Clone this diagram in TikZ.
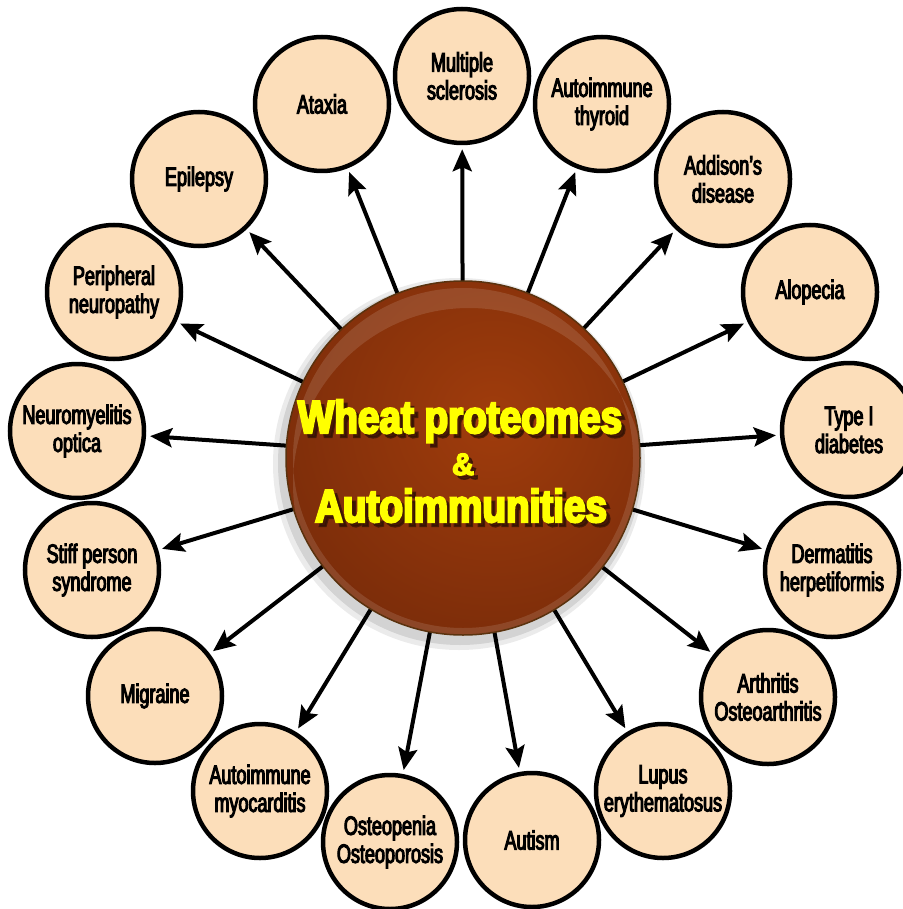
\documentclass[tikz,border=0pt]{standalone}
\usepackage{fontspec}
\usetikzlibrary{arrows.meta}
\newfontfamily\lblfont[FakeStretch=0.68,FakeBold=4]{Liberation Sans}
\newfontfamily\ttlfont[FakeStretch=0.84,FakeBold=5]{Liberation Sans Bold}
\newfontfamily\ampfont[FakeBold=4]{Liberation Sans Bold}
\definecolor{peach}{RGB}{252,222,186}
\definecolor{brownA}{RGB}{160,60,12}
\definecolor{brownB}{RGB}{122,44,10}
\definecolor{brownRim}{RGB}{90,50,14}
\definecolor{ttlyellow}{RGB}{255,255,0}
\definecolor{ttlshadow}{RGB}{50,18,4}
\begin{document}
\begin{tikzpicture}[x=1pt,y=-1pt,
  disease/.style={circle, draw=black, line width=4.5pt, fill=peach, minimum size=134pt,
    inner sep=0pt, align=center, font=\lblfont\fontsize{26.5}{28}\selectfont},
  link/.style={line width=4pt, -{Stealth[length=22pt,width=19pt,inset=4pt]}, shorten >=4pt},
  ttl/.style={anchor=base, inner sep=0pt, text=ttlyellow, font=\ttlfont\fontsize{46}{46}\selectfont},
  ttlsmall/.style={anchor=base, inner sep=0pt, text=ttlyellow, font=\ampfont\fontsize{31}{31}\selectfont},
  ttlsh/.style={text=ttlshadow, opacity=0.75}
]
\useasboundingbox[fill=white] (0,0) rectangle (902,909);

% hub placeholder
\node[circle, minimum size=354pt, inner sep=0pt] (hub) at (463,458) {};

% disease nodes
\node[disease] (ms)  at (462,76)  {Multiple\\sclerosis};
\node[disease] (thy) at (602,104) {Autoimmune\\thyroid};
\node[disease] (add) at (723,179) {Addison’s\\disease};
\node[disease] (alo) at (810,292) {Alopecia};
\node[disease] (tid) at (849,430) {Type I\\diabetes};
\node[disease] (der) at (832,570) {Dermatitis\\herpetiformis};
\node[disease] (art) at (768,697) {Arthritis\\Osteoarthritis};
\node[disease] (lup) at (663,791) {Lupus\\erythematosus};
\node[disease] (aut) at (532,840) {Autism};
\node[disease] (ost) at (390,842) {Osteopenia\\Osteoporosis};
\node[disease] (myo) at (260,791) {Autoimmune\\myocarditis};
\node[disease] (mig) at (155,696) {Migraine};
\node[disease] (stf) at (92,570)  {Stiff person\\syndrome};
\node[disease] (neu) at (77,431)  {Neuromyelitis\\optica};
\node[disease] (per) at (114,292) {Peripheral\\neuropathy};
\node[disease] (epi) at (199,179) {Epilepsy};
\node[disease] (atx) at (322,104) {Ataxia};

% arrows
\foreach \t in {ms,thy,add,alo,tid,der,art,lup,aut,ost,myo,mig,stf,neu,per,epi,atx}
  \draw[link] (hub) -- (\t);

% hub drawing
\fill[black, opacity=0.10] ([shift={(-3,5)}]hub.center) circle (182);
\fill[black, opacity=0.08] ([shift={(-4,6)}]hub.center) circle (186);
\begin{scope}
  \clip (hub.center) circle (177);
  \shade[inner color=brownA, outer color=brownB] ([shift={(30,-40)}]hub.center) circle (240);
  \fill[white, opacity=0.12, even odd rule] (hub.center) circle (170) ([shift={(6,26)}]hub.center) circle (176);
\end{scope}
\draw[brownRim, line width=1.5pt] (hub.center) circle (177);

% title with shadow
\node[ttl, ttlsh] (s1) at (464,437) {Wheat proteomes};
\node[ttlsmall, ttlsh] (s2) at (467,479) {\&};
\node[ttl, ttlsh] (s3) at (465,526) {Autoimmunities};
\node[ttl] (t1) at (460,433) {Wheat proteomes};
\node[ttlsmall] (t2) at (463,475) {\&};
\node[ttl] (t3) at (461,522) {Autoimmunities};
\end{tikzpicture}
\end{document}
